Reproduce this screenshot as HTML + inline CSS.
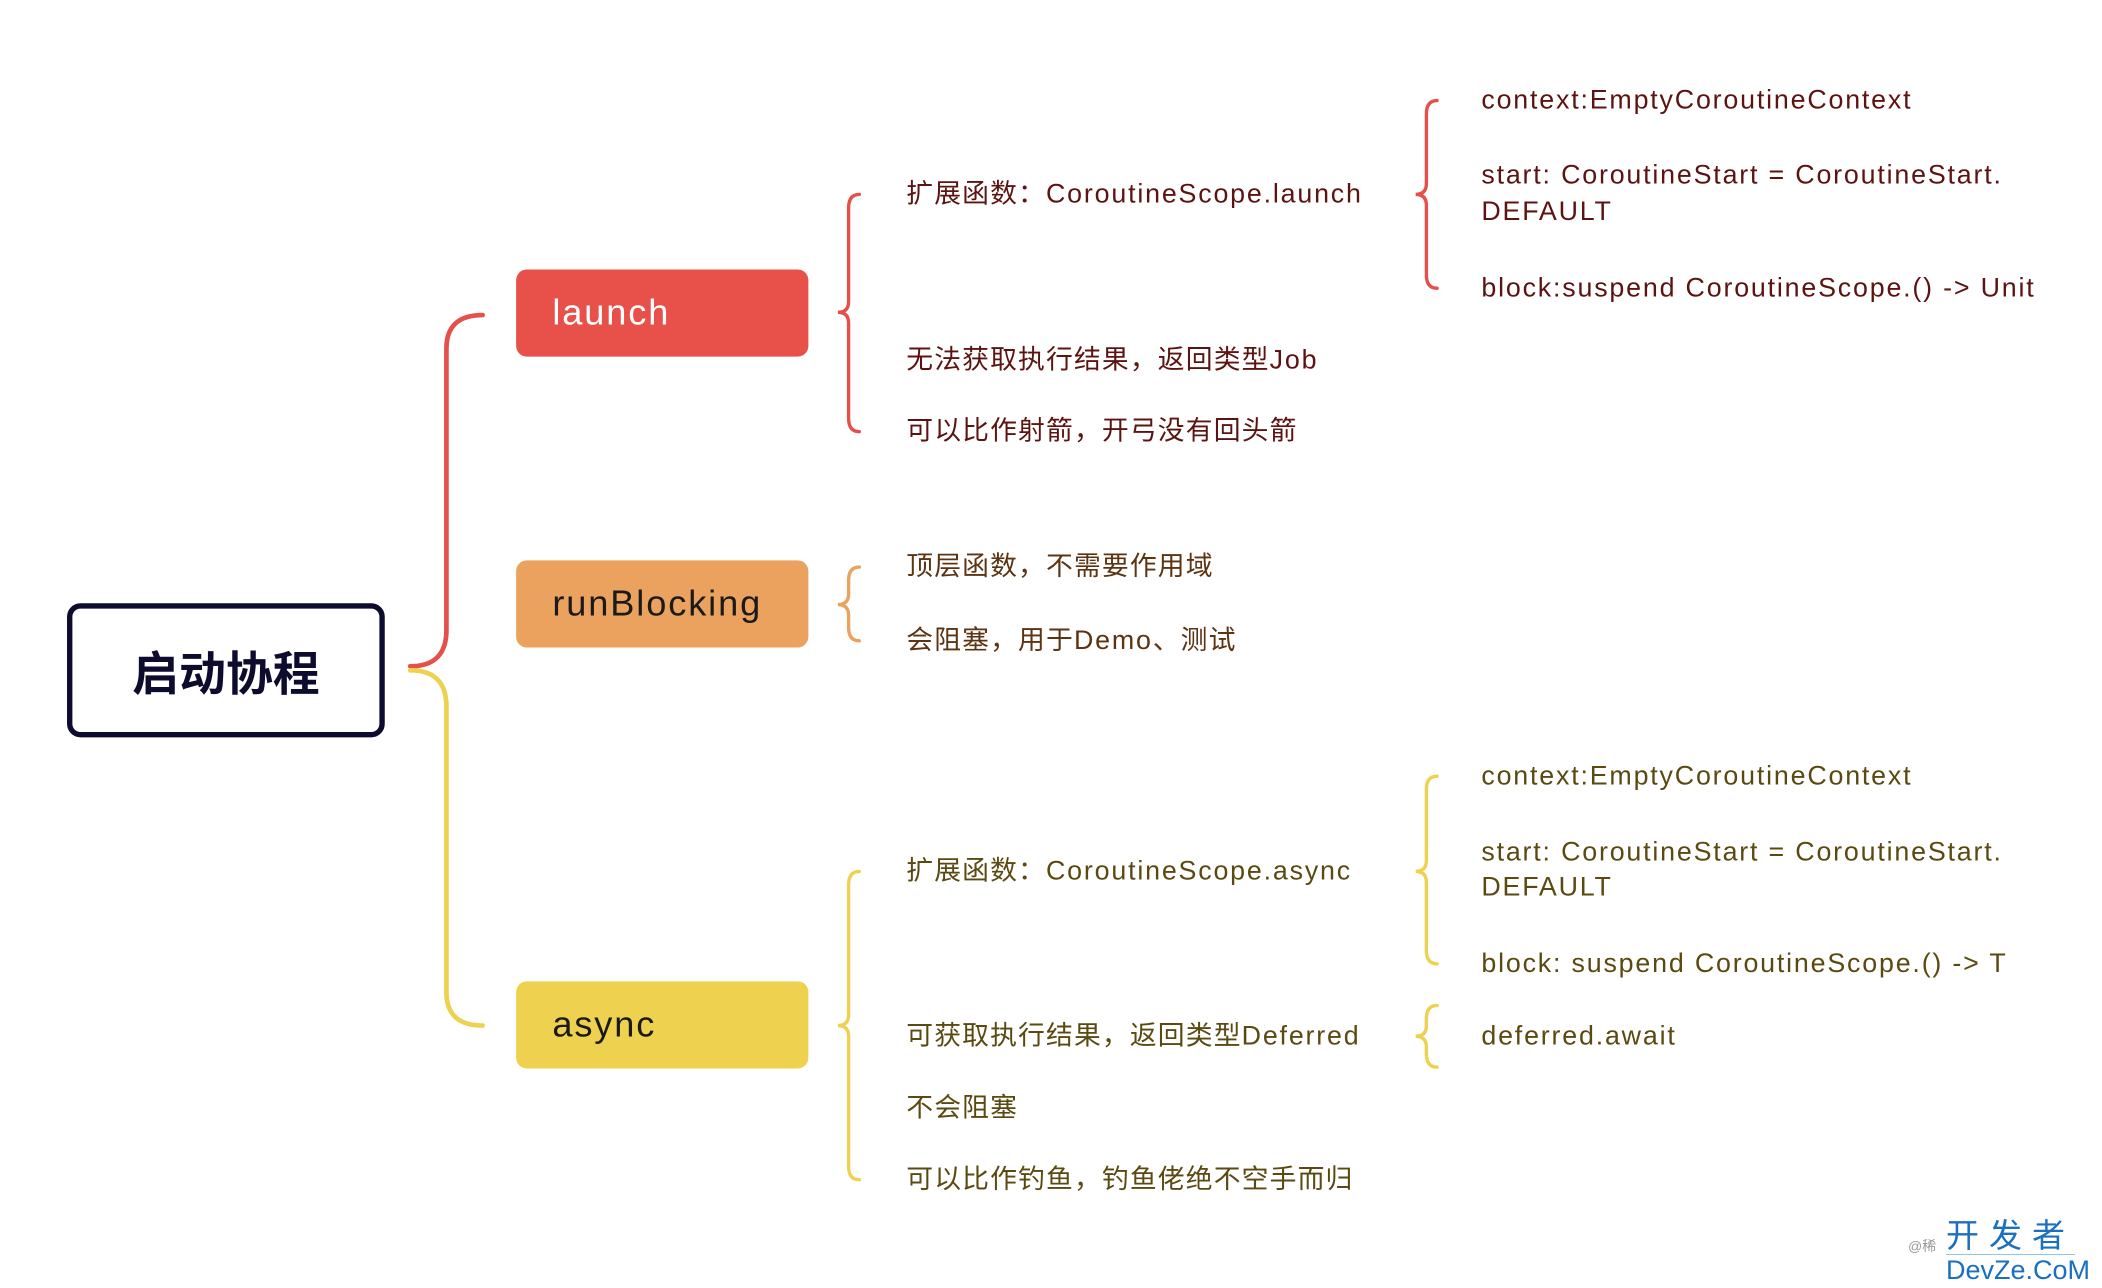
<!DOCTYPE html>
<html><head><meta charset="utf-8"><style>
html,body{margin:0;padding:0;background:#fff;}
body{width:2102px;height:1288px;overflow:hidden;position:relative;}
#s{position:absolute;left:0;top:0;width:1568px;height:961px;transform:scale(1.3406);transform-origin:0 0;font-family:"Liberation Sans","Noto Sans CJK SC",sans-serif;}
.t{position:absolute;white-space:nowrap;font-size:20px;line-height:26px;transform:translateY(-13px);letter-spacing:0.85px;}
.t i{font-style:normal;letter-spacing:1.35px;}
.r{color:#5c1412;}.o{color:#5c3412;}.y{color:#5a4a12;}
.box{position:absolute;border-radius:8px;font-size:27px;display:flex;align-items:center;padding-left:27px;box-sizing:border-box;letter-spacing:1.4px;}
</style></head><body><div id="s">
<svg width="1568" height="961" style="position:absolute;left:0;top:0" fill="none" stroke-width="3.5" stroke-linecap="round">
<path d="M306,497 Q333,497 333,470 L333,260 Q333,235 360,235" stroke="#e5504a"/>
<path d="M306,500 Q333,500 333,527 L333,740 Q333,765 360,765" stroke="#eed24f"/>
<g stroke-width="2.5">
<path d="M641,145 Q633,145 633,155 L633,225 Q633,233 625,233 Q633,233 633,241 L633,312 Q633,322 641,322" stroke="#e5504a"/>
<path d="M1072,75 Q1064,75 1064,85 L1064,137 Q1064,145 1056,145 Q1064,145 1064,153 L1064,205 Q1064,215 1072,215" stroke="#e5504a"/>
<path d="M641,423 Q633,423 633,433 L633,443 Q633,451 625,451 Q633,451 633,459 L633,468 Q633,478 641,478" stroke="#eba25e"/>
<path d="M641,650 Q633,650 633,660 L633,757 Q633,765 625,765 Q633,765 633,773 L633,870 Q633,880 641,880" stroke="#eed24f"/>
<path d="M1072,579 Q1064,579 1064,589 L1064,642 Q1064,650 1056,650 Q1064,650 1064,658 L1064,709 Q1064,719 1072,719" stroke="#eed24f"/>
<path d="M1072,750 Q1064,750 1064,760 L1064,765 Q1064,773 1056,773 Q1064,773 1064,781 L1064,786 Q1064,796 1072,796" stroke="#eed24f"/>
</g></svg>
<div style="position:absolute;left:50px;top:450px;width:237px;height:100px;box-sizing:border-box;border:4px solid #0d0b2e;border-radius:10px;display:flex;align-items:center;justify-content:center;font-size:35px;font-weight:bold;color:#0d0b2e;">启动协程</div>
<div class="box" style="left:385px;top:201px;width:218px;height:65px;background:#e8504a;color:#fff;">launch</div>
<div class="box" style="left:385px;top:418px;width:218px;height:65px;background:#eba25e;color:#1a1a1a;">runBlocking</div>
<div class="box" style="left:385px;top:732px;width:218px;height:65px;background:#eed24f;color:#1a1a1a;">async</div>
<div class="t r" style="left:676px;top:145px">扩展函数：<i>CoroutineScope.launch</i></div>
<div class="t r" style="left:676px;top:269px">无法获取执行结果，返回类型<i>Job</i></div>
<div class="t r" style="left:676px;top:322px">可以比作射箭，开弓没有回头箭</div>
<div class="t r" style="left:1105px;top:75px"><i>context:EmptyCoroutineContext</i></div>
<div class="t r" style="left:1105px;top:131px"><i>start: CoroutineStart = CoroutineStart.</i></div>
<div class="t r" style="left:1105px;top:158px"><i>DEFAULT</i></div>
<div class="t r" style="left:1105px;top:215px"><i>block:suspend CoroutineScope.() -&gt; Unit</i></div>
<div class="t o" style="left:676px;top:423px">顶层函数，不需要作用域</div>
<div class="t o" style="left:676px;top:478px">会阻塞，用于<i>Demo</i>、测试</div>
<div class="t y" style="left:676px;top:650px">扩展函数：<i>CoroutineScope.async</i></div>
<div class="t y" style="left:676px;top:773px">可获取执行结果，返回类型<i>Deferred</i></div>
<div class="t y" style="left:676px;top:827px">不会阻塞</div>
<div class="t y" style="left:676px;top:880px">可以比作钓鱼，钓鱼佬绝不空手而归</div>
<div class="t y" style="left:1105px;top:579px"><i>context:EmptyCoroutineContext</i></div>
<div class="t y" style="left:1105px;top:636px"><i>start: CoroutineStart = CoroutineStart.</i></div>
<div class="t y" style="left:1105px;top:662px"><i>DEFAULT</i></div>
<div class="t y" style="left:1105px;top:719px"><i>block: suspend CoroutineScope.() -&gt; T</i></div>
<div class="t y" style="left:1105px;top:773px"><i>deferred.await</i></div>
</div>
<div style="position:absolute;left:1908px;top:1236px;font-size:14px;color:#999;font-family:'Liberation Sans','Noto Sans CJK SC',sans-serif;">@稀</div>
<div style="position:absolute;left:1946px;top:1218px;font-size:33px;line-height:36px;color:#1a6fc0;letter-spacing:10px;font-family:'Liberation Sans','Noto Sans CJK SC',sans-serif;border-bottom:1px solid #8cc8e8;">开发者</div>
<div style="position:absolute;left:1946px;top:1255px;font-size:27px;line-height:30px;color:#1a6fc0;font-family:'Liberation Sans',sans-serif;">DevZe.CoM</div>
</body></html>
